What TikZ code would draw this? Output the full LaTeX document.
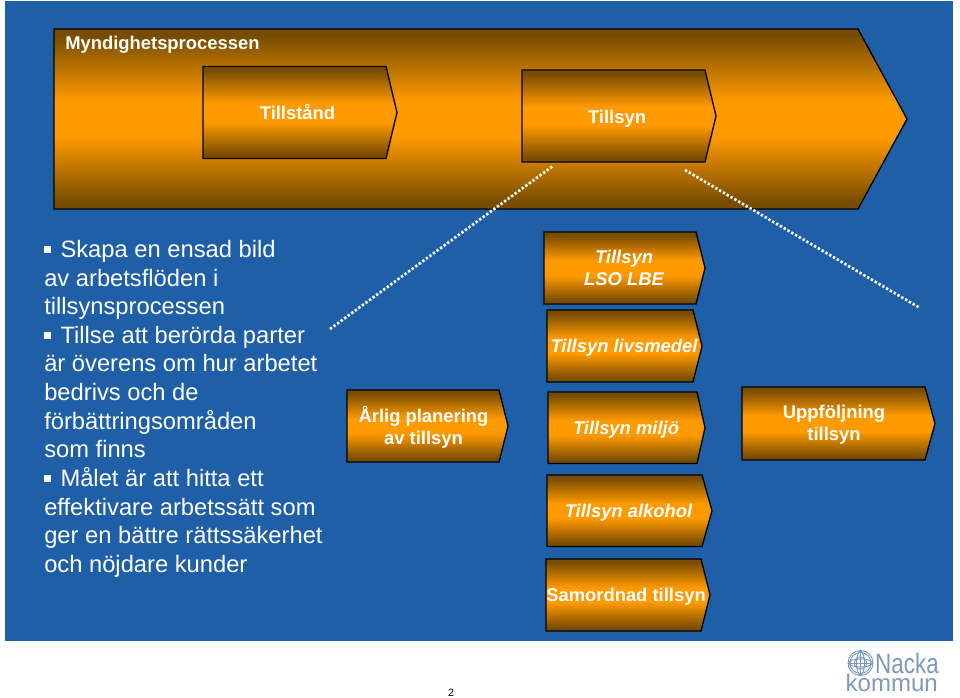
\documentclass[tikz,border=0pt]{standalone}
\usepackage{fontspec}
\setmainfont{Liberation Sans}
\usepackage{xcolor}
\definecolor{pageblue}{RGB}{31,95,168}
\definecolor{procdark}{RGB}{120,76,0}
\definecolor{procorange}{RGB}{255,154,0}
\definecolor{logoblue}{RGB}{124,155,186}
\pgfdeclareverticalshading{procshade}{100bp}{
  color(0bp)=(procdark); color(27bp)=(procdark); color(45bp)=(procorange);
  color(55bp)=(procorange); color(73bp)=(procdark); color(100bp)=(procdark)}
\newcommand{\procbox}[5]{%
  \shadedraw[shading=procshade, draw=black, line width=1pt]
    (#1,#2) -- (#3,#2) -- (#4,{(#2+#5)/2}) -- (#3,#5) -- (#1,#5) -- cycle;}
\newcommand{\bul}{\rule[3.2pt]{5.2pt}{5.2pt}\hspace{7pt}}
\begin{document}
\begin{tikzpicture}[
  x=0.75pt, y=-0.75pt,
  lbl/.style={text=white, align=center, font=\fontsize{13.8pt}{16.8pt}\selectfont\bfseries, inner sep=0pt},
  ilbl/.style={lbl, font=\fontsize{13.8pt}{16.8pt}\selectfont\bfseries\itshape},
  dots/.style={draw=white, line width=2pt, dash pattern=on 1.8pt off 1.5pt},
  logoline/.style={draw=logoblue, line width=0.7pt}
]
  \useasboundingbox (0,0) rectangle (960,698);
  \fill[white] (0,0) rectangle (960,698);
  \fill[pageblue] (5,1) rectangle (953,641);

  % Process arrow
  \procbox{54}{29}{858}{907}{209}
  \procbox{203}{66.5}{386}{397}{158.5}
  \procbox{522}{70}{705}{716}{162}
  \node[lbl, anchor=west] (myndighet) at (65,44.5) {Myndighetsprocessen};
  \node[lbl] (tillstand) at (297.5,112) {Tillst\aa nd};
  \node[lbl] (tillsyn) at (617,118.5) {Tillsyn};

  % Zoom lines
  \coordinate (zoomA) at (330,329);
  \coordinate (zoomB) at (553,166);
  \coordinate (zoomC) at (685,170);
  \coordinate (zoomD) at (920,308);
  \draw[dots] (zoomA) -- (zoomB);
  \draw[dots] (zoomC) -- (zoomD);

  % Steps
  \procbox{347}{390}{499}{508}{462}
  \procbox{544}{232}{696}{705}{304}
  \procbox{547}{310}{693}{702}{382}
  \procbox{548}{392}{697}{705}{463.5}
  \procbox{547}{475}{702}{712}{546.5}
  \procbox{546}{559}{701}{710}{631}
  \procbox{742}{387}{925}{935}{460}
  \node[lbl] (planering) at (423.5,427) {\AA rlig planering\\av tillsyn};
  \node[ilbl] (lso) at (624,268) {Tillsyn\\LSO LBE};
  \node[ilbl] (livsmedel) at (624,347.5) {Tillsyn livsmedel};
  \node[ilbl] (miljo) at (626,429.5) {Tillsyn milj\"o};
  \node[ilbl] (alkohol) at (628.5,512.5) {Tillsyn alkohol};
  \node[lbl] (samordnad) at (626,596.5) {Samordnad tillsyn};
  \node[lbl] (uppfoljning) at (834,425) {Uppf\"oljning\\tillsyn};

  % Left text
  \node[text=white, anchor=north west, align=left, inner sep=0pt,
        font=\fontsize{17.8pt}{21.47pt}\selectfont] (goals) at (44,240) {%
    \bul Skapa en ensad bild\\
    av arbetsfl\"oden i\\
    tillsynsprocessen\\
    \bul Tillse att ber\"orda parter\\
    \"ar \"overens om hur arbetet\\
    bedrivs och de\\
    f\"orb\"attringsomr\aa den\\
    som finns\\
    \bul M\aa let \"ar att hitta ett\\
    effektivare arbetss\"att som\\
    ger en b\"attre r\"attss\"akerhet\\
    och n\"ojdare kunder};

  % Footer
  \node[inner sep=0pt, font=\fontsize{8pt}{10pt}\selectfont] (pagenr) at (451,693) {2};
  \draw[logoline] (860.5,663) circle (12.5) circle (10.5) circle (6);
  \draw[logoline] (860.5,663) ellipse (4 and 12);
  \draw[logoline] (860.5,663) ellipse (12 and 4);
  \draw[logoline] (848,663) -- (873,663);
  \draw[logoline] (860.5,650.5) -- (860.5,675.5);
  \node[text=logoblue, anchor=base west, inner sep=0pt, xscale=0.8, font=\fontsize{21pt}{21pt}\selectfont] (nacka) at (875,673.5) {Nacka};
  \node[text=logoblue, anchor=base east, inner sep=0pt, font=\fontsize{18pt}{18pt}\selectfont] (kommun) at (938,691.5) {kommun};
\end{tikzpicture}
\end{document}
